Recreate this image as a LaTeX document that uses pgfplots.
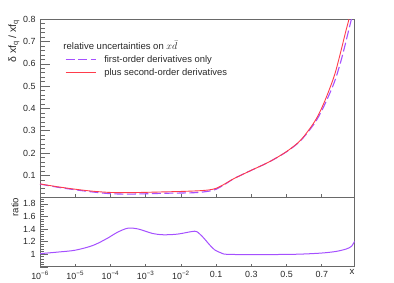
\documentclass[border=0pt]{standalone}
\usepackage{fontspec}
\setmainfont{Liberation Sans}
\usepackage{pgfplots}
\pgfplotsset{compat=1.18}
\definecolor{cpurple}{RGB}{165,80,255}
\definecolor{cred}{RGB}{255,60,75}
\definecolor{cframe}{RGB}{105,105,105}
\definecolor{ctext}{RGB}{40,40,40}

\pgfplotstableread{
u val
0 0.062
0.5 0.049
1 0.038
1.5 0.029
2 0.0235
2.5 0.0225
3 0.024
3.5 0.026
4 0.028
4.5 0.031
4.8 0.035
5 0.042
5.25 0.062
5.5 0.085
6 0.123
6.5 0.160
7 0.207
7.4 0.258
7.8 0.342
8.06 0.424
8.35 0.544
8.53 0.649
8.67 0.739
8.77 0.80
8.85 0.87
}\redtab

\pgfplotstableread{
u val
0 0.061
0.5 0.047
1 0.0355
1.5 0.0255
2 0.018
2.5 0.016
3 0.0175
3.5 0.0197
4 0.021
4.4 0.0225
4.65 0.026
4.85 0.031
5 0.038
5.25 0.060
5.5 0.085
6 0.123
6.5 0.160
7 0.206
7.4 0.256
7.8 0.335
8.06 0.41
8.35 0.515
8.53 0.605
8.67 0.69
8.77 0.755
8.84 0.80
8.93 0.87
}\purtab

\pgfplotstableread{
u r
0 1.01
0.5 1.035
1 1.065
1.5 1.14
1.9 1.25
2.2 1.35
2.5 1.415
2.8 1.40
3.2 1.33
3.5 1.31
3.9 1.32
4.3 1.36
4.45 1.36
4.63 1.27
4.8 1.16
4.96 1.07
5.15 1.02
5.3 1.0
6 0.995
7 0.998
7.5 1.005
8 1.02
8.4 1.045
8.7 1.085
8.85 1.13
8.935 1.21
}\ratiotab

\pgfplotsset{
  rootbase/.style={
    scale only axis, width=314.7bp,
    xmin=0, xmax=8.935,
    axis line style={cframe, line width=0.9bp},
    tick style={cframe, line width=0.7bp},
    tick align=inside,
    xtick pos=left, ytick pos=left,
    minor y tick num=4,
    minor x tick num=0,
    xtick style={/pgfplots/major tick length=4bp},
    ytick style={/pgfplots/major tick length=10bp, /pgfplots/minor tick length=5bp},
    ticklabel style={font=\fontsize{8.9bp}{11bp}\selectfont, text=ctext},
    label style={font=\fontsize{9.6bp}{12bp}\selectfont, text=ctext},
    /pgf/number format/assume math mode=true,
    /pgf/number format/fixed,
    /pgf/number format/precision=1,
    yticklabel style={xshift=-1bp},
  }
}

\begin{document}
\begin{tikzpicture}[x=1bp,y=1bp]
\path (0,0) rectangle (394,283);

\begin{axis}[rootbase,
  at={(40bp,85.3bp)}, anchor=south west, height=178.4bp,
  ymin=0, ymax=0.8,
  ytick={0,0.1,0.2,0.3,0.4,0.5,0.6,0.7,0.8},
  yticklabels={,0.1,0.2,0.3,0.4,0.5,0.6,0.7,0.8},
  xtick={1,2,3,4,5,6,7,8}, xticklabels={},
  ylabel={δ xf\textsubscript{q} / xf\textsubscript{q}},
  ylabel style={at={(axis description cs:-0.0826,1)}, anchor=east, inner sep=0pt, font=\fontsize{10.5bp}{12bp}\selectfont},
  legend style={at={(axis description cs:0.0794,0.801)}, anchor=north west,
    draw=none, fill=none, inner sep=0pt, row sep=4bp, column sep=8bp,
    font=\fontsize{9.4bp}{11bp}\selectfont, text=ctext,
    nodes={inner sep=0pt, text height=7bp, text depth=2bp}},
  legend cell align=left,
  legend image code/.code={\draw[#1] (0bp,0bp) -- (30bp,0bp);},
]
\addplot[draw=cpurple, line width=1.1bp, dash pattern=on 9bp off 3.5bp, smooth] table[x=u,y=val] {\purtab};
\addlegendentry{first-order derivatives only}
\addplot[draw=cred, line width=0.9bp, smooth] table[x=u,y=val] {\redtab};
\addlegendentry{plus second-order derivatives}
\node[anchor=west, inner sep=0pt, font=\fontsize{9.5bp}{11bp}\selectfont, text=ctext] at (axis description cs:0.074,0.856) {relative uncertainties on $x\bar{d}$};
\end{axis}

\begin{axis}[rootbase,
  at={(40bp,16.1bp)}, anchor=south west, height=69.3bp,
  ymin=0.8, ymax=1.9,
  ytick={0.8,1,1.2,1.4,1.6,1.8,2.0},
  yticklabels={,1,1.2,1.4,1.6,1.8,},
  ytick style={/pgfplots/major tick length=8bp, /pgfplots/minor tick length=4bp},
  xtick={0,1,2,3,4,5,6,7,8},
  xticklabels={10\textsuperscript{−6},10\textsuperscript{−5},10\textsuperscript{−4},10\textsuperscript{−3},10\textsuperscript{−2},0.1,0.3,0.5,0.7},
  xtick style={/pgfplots/major tick length=3bp},
  xticklabel style={yshift=-1bp},
  xlabel={x},
  xlabel style={at={(axis description cs:1,0)}, anchor=north east, yshift=-2.5bp, inner sep=0pt},
  ylabel={ratio},
  ylabel style={at={(axis description cs:-0.0794,1)}, anchor=east, inner sep=0pt},
]
\addplot[draw=cpurple, line width=1bp, smooth] table[x=u,y=r] {\ratiotab};
\end{axis}
\end{tikzpicture}
\end{document}
